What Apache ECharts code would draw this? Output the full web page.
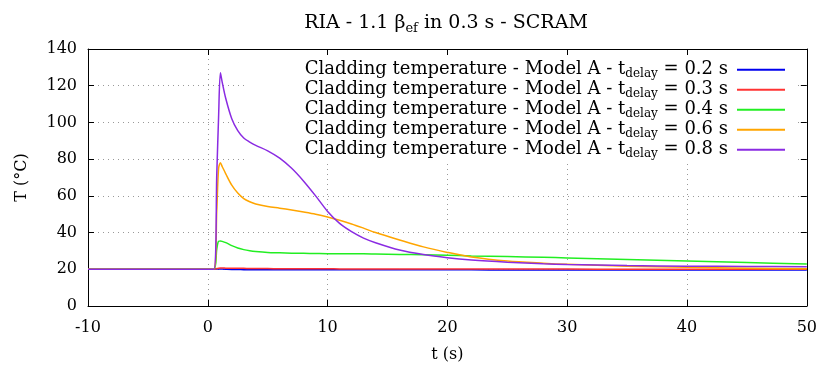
<!DOCTYPE html>
<html><head><meta charset="utf-8">
<script src="https://cdn.jsdelivr.net/npm/echarts@6/dist/echarts.min.js"></script>
<style>html,body{margin:0;padding:0;background:#fff}#c{width:820px;height:372px}</style>
</head><body><div id="c"></div>
<script>
const time = [-10, 0.5, 0.75, 0.9, 1.05, 1.2, 1.5, 2, 2.5, 3, 3.5, 4, 5, 6, 7, 8, 9, 10, 11, 12, 13, 14, 16, 18, 20, 22, 25, 28, 30, 35, 40, 45, 50];
const delay02 = [20, 20, 20.2, 20.2, 20.2, 20.1, 20.0, 19.9, 19.9, 19.8, 19.8, 19.8, 19.8, 19.8, 19.8, 19.8, 19.8, 19.7, 19.7, 19.7, 19.7, 19.7, 19.7, 19.7, 19.7, 19.7, 19.6, 19.6, 19.6, 19.6, 19.6, 19.6, 19.6];
const delay03 = [20, 20, 20.4, 20.6, 20.7, 20.7, 20.6, 20.5, 20.5, 20.5, 20.4, 20.4, 20.4, 20.3, 20.3, 20.3, 20.3, 20.3, 20.2, 20.2, 20.2, 20.2, 20.1, 20.1, 20.1, 20.1, 20.1, 20.1, 20.1, 20.0, 20.0, 20.0, 20.0];
const delay04 = [20, 20, 31, 35.3, 35.4, 35.2, 34.5, 32.9, 31.6, 30.7, 30.1, 29.7, 29.2, 29.0, 28.8, 28.7, 28.6, 28.5, 28.5, 28.4, 28.4, 28.3, 28.1, 27.9, 27.6, 27.3, 26.9, 26.5, 26.2, 25.3, 24.5, 23.7, 22.9];
const delay06 = [20, 20, 52, 75, 78, 76, 72, 65.8, 61.5, 58.5, 56.8, 55.6, 54.2, 53.3, 52.3, 51.2, 50.0, 48.5, 46.7, 44.7, 42.4, 40.0, 36.0, 32.2, 29.2, 26.7, 24.5, 23.3, 22.7, 21.7, 21.1, 20.6, 20.3];
const delay08 = [20, 20, 72, 103, 127, 122, 113, 102, 95.5, 91.5, 89.3, 87.5, 84.5, 80.5, 75, 68, 60, 51.5, 45, 40.5, 37, 34.5, 30.5, 28, 26.3, 25.1, 23.9, 23.0, 22.6, 22.0, 21.7, 21.5, 21.4];
const delays = ['0.2', '0.3', '0.4', '0.6', '0.8'];
const seriesValues = [delay02, delay03, delay04, delay06, delay08];
const colors = ['#0000ee', '#ff3333', '#22ee22', '#ffa500', '#8a2be2'];
const xTicks = {min: -10, max: 50, interval: 10};
const yTicks = {min: 0, max: 140, interval: 20};

const FONT = 'DejaVu Serif';
const FS = 16;
const LFS = 18;
const names = delays.map(d => 'Cladding temperature - Model A - t_delay = ' + d + ' s');
const chart = echarts.init(document.getElementById('c'));
const axisCommon = {
  axisLine: {show: true, onZero: false, lineStyle: {color: '#000', width: 1}},
  axisTick: {show: true, inside: true, length: 6, lineStyle: {color: '#000'}},
};
chart.setOption({
  animation: false,
  backgroundColor: '#fff',
  title: {
    text: '{a|RIA - 1.1 β}{s|ef}{a| in 0.3 s - SCRAM}',
    left: 441, top: 6, textAlign: 'center',
    textStyle: {fontWeight: 'normal', rich: {
      a: {fontFamily: FONT, fontSize: 19, fontWeight: 'normal', color: '#000', lineHeight: 24},
      s: {fontFamily: FONT, fontSize: 13, fontWeight: 'normal', color: '#000', lineHeight: 24, verticalAlign: 'bottom', padding: [9, 0, 0, 0]}
    }}
  },
  grid: {left: 88, right: 11, top: 49, bottom: 66},
  legend: {
    orient: 'vertical', right: 23, top: 56, align: 'right',
    backgroundColor: '#fff',
    padding: [4, 12, 1, 60],
    itemWidth: 48, itemHeight: 2, itemGap: 0,
    icon: 'rect',
    data: names,
    formatter: function (n) {
      const i = names.indexOf(n);
      return '{a|Cladding temperature - Model A - t}{s|delay}{a| = ' + delays[i] + ' s}';
    },
    textStyle: {padding: [0, 4, 0, 0], rich: {
      a: {fontFamily: FONT, fontSize: LFS, color: '#000', lineHeight: 20.7},
      s: {fontFamily: FONT, fontSize: 12, color: '#000', lineHeight: 20.7, verticalAlign: 'bottom', padding: [8, 0, 0, 0]}
    }}
  },
  xAxis: [
    Object.assign({type: 'value', position: 'bottom', min: xTicks.min, max: xTicks.max, interval: xTicks.interval,
      name: 't (s)', nameLocation: 'middle', nameGap: 41,
      nameTextStyle: {fontFamily: FONT, fontSize: FS, color: '#000'},
      axisLabel: {fontFamily: FONT, fontSize: FS, color: '#000', margin: 14},
      splitLine: {show: true, lineStyle: {color: '#999', type: [1, 4], width: 1}}}, axisCommon),
    Object.assign({type: 'value', position: 'top', min: xTicks.min, max: xTicks.max, interval: xTicks.interval,
      axisLabel: {show: false}, splitLine: {show: false}}, axisCommon)
  ],
  yAxis: [
    Object.assign({type: 'value', position: 'left', min: yTicks.min, max: yTicks.max, interval: yTicks.interval,
      name: 'T (°C)', nameLocation: 'middle', nameGap: 58, nameRotate: 90,
      nameTextStyle: {fontFamily: FONT, fontSize: FS, color: '#000'},
      axisLabel: {fontFamily: FONT, fontSize: FS, color: '#000', margin: 11},
      splitLine: {show: true, lineStyle: {color: '#999', type: [1, 4], width: 1}}}, axisCommon),
    Object.assign({type: 'value', position: 'right', min: yTicks.min, max: yTicks.max, interval: yTicks.interval,
      axisLabel: {show: false}, splitLine: {show: false}}, axisCommon)
  ],
  series: seriesValues.map((vals, i) => ({
    name: names[i], type: 'line', xAxisIndex: 0, yAxisIndex: 0,
    data: time.map((t, k) => [t, vals[k]]),
    showSymbol: false, symbol: 'none', smooth: 0.3,
    color: colors[i],
    lineStyle: {color: colors[i], width: 1.5},
    z: 2 + i
  }))
});
</script></body></html>
